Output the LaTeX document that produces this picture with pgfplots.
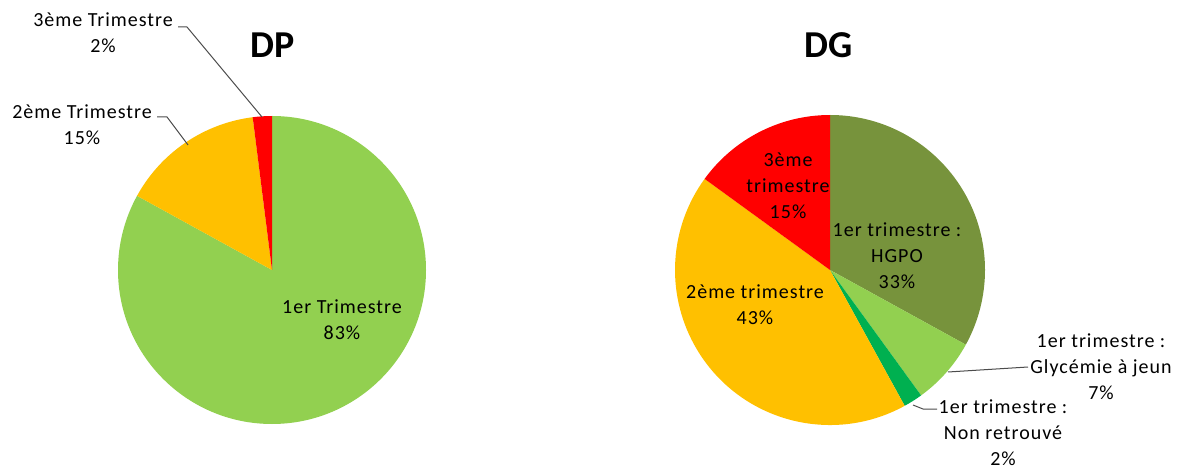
\documentclass[border=0pt]{standalone}
\usepackage{pgfplots}
\pgfplotsset{compat=1.18}
\usepackage{pgfplotstable}
\usepackage{fontspec}
\setmainfont{Carlito}
\newfontfamily\lblfont{Carlito}[LetterSpace=5]

\definecolor{xlgreen}{HTML}{92D050}
\definecolor{xlorange}{HTML}{FFC000}
\definecolor{xlred}{HTML}{FF0000}
\definecolor{xlolive}{HTML}{77933C}
\definecolor{xlgreenB}{HTML}{00B050}

% DP: share by trimester (%)
\pgfplotstableread{
pct color
83 xlgreen
15 xlorange
2 xlred
}\dptable

% DG
\pgfplotstableread{
pct color
33 xlolive
7 xlgreen
2 xlgreenB
43 xlorange
15 xlred
}\dgtable

% #1 table, #2 cx, #3 cy, #4 radius; slices clockwise from 12 o'clock
\newcommand\drawpie[4]{%
  \pgfplotstablegetrowsof{#1}%
  \pgfmathtruncatemacro\lastrow{\pgfplotsretval-1}%
  \def\cumul{0}%
  \pgfplotsforeachungrouped \r in {0,...,\lastrow}{%
    \pgfplotstablegetelem{\r}{pct}\of#1\let\val\pgfplotsretval
    \pgfplotstablegetelem{\r}{color}\of#1\let\col\pgfplotsretval
    \pgfmathsetmacro\angA{90-3.6*\cumul}%
    \pgfmathsetmacro\cumul{\cumul+\val}%
    \pgfmathsetmacro\angB{90-3.6*\cumul}%
    \edef\temp{\noexpand\fill[\col] (axis cs:#2,#3) -- ([shift={(\angA:#4pt)}]axis cs:#2,#3)
      arc[start angle=\angA, end angle=\angB, radius=#4pt] -- cycle;}%
    \temp
  }%
}

\begin{document}
\begin{tikzpicture}
\begin{axis}[x=1pt,y=1pt,xmin=0,xmax=1181,ymin=0,ymax=469,
  hide axis,clip=false,scale only axis]
\path (axis cs:0,0) rectangle (axis cs:1181,469);
\drawpie{\dptable}{272}{199}{154}
\drawpie{\dgtable}{830}{199}{155}

\tikzset{lbl/.style={align=center,font=\lblfont\fontsize{20}{26}\selectfont,inner sep=0pt}}
\node[font=\fontsize{38}{40}\selectfont\bfseries] at (axis cs:273,424) {DP};
\node[font=\fontsize{38}{40}\selectfont\bfseries] at (axis cs:829,424) {DG};

% DP labels
\node[lbl] at (axis cs:342,149) {1er Trimestre\\83\%};
\node[lbl] at (axis cs:82,344) {2ème Trimestre\\15\%};
\node[lbl] at (axis cs:103,436) {3ème Trimestre\\2\%};
\draw[black!70,line width=1pt] (axis cs:178,442) -- (axis cs:187,442) -- (axis cs:262,352);
\draw[black!70,line width=1pt] (axis cs:157,352) -- (axis cs:167,352) -- (axis cs:188,324);

% DG labels
\node[lbl] at (axis cs:788,283) {3ème\\trimestre\\15\%};
\node[lbl] at (axis cs:897,213) {1er trimestre :\\HGPO\\33\%};
\node[lbl] at (axis cs:755,164) {2ème trimestre\\43\%};
\node[lbl] at (axis cs:1101,102) {1er trimestre :\\Glycémie à jeun\\7\%};
\node[lbl] at (axis cs:1003,36) {1er trimestre :\\Non retrouvé\\2\%};
\draw[black!70,line width=1pt] (axis cs:948,97) -- (axis cs:1028,102);
\draw[black!70,line width=1pt] (axis cs:913,64) -- (axis cs:923,60) -- (axis cs:937,60);
\end{axis}
\end{tikzpicture}
\end{document}
